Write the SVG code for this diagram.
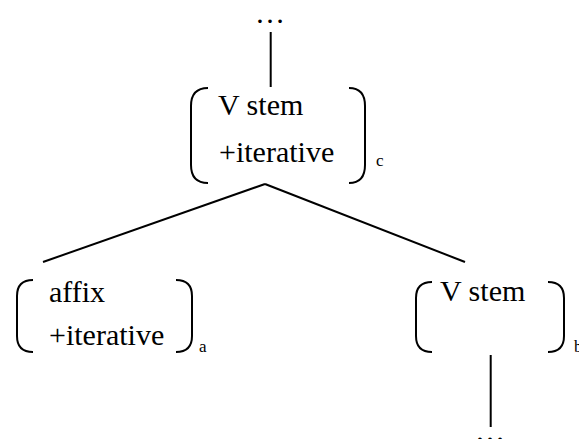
<svg xmlns="http://www.w3.org/2000/svg" width="579" height="439" viewBox="0 0 579 439" font-family="'Liberation Serif', serif">
<style>
.t{font-family:'Liberation Serif',serif;font-size:30px;fill:#000}
.s{font-family:'Liberation Serif',serif;font-size:17px;fill:#000}
.br{fill:none;stroke:#000;stroke-width:2}
.ln{stroke:#000;stroke-width:2;fill:none}
</style>
<rect width="579" height="439" fill="#fff"/>
<g id="connectors">
<line class="ln" x1="270.7" y1="32" x2="270.7" y2="87"/>
<line class="ln" x1="265" y1="184" x2="43" y2="262"/>
<line class="ln" x1="265" y1="184" x2="465" y2="262"/>
<line class="ln" x1="490.7" y1="355" x2="490.7" y2="427"/>
</g>
<g id="top-ellipsis"><text class="t" x="270" y="23" text-anchor="middle">…</text></g>
<g id="node-c">
<path class="br" d="M208,88 Q191,88 191,106 V165 Q191,183 208,183"/>
<path class="br" d="M349,88 Q365,88 365,106 V165 Q365,183 349,183"/>
<text class="t" x="218" y="115">V stem</text>
<text class="t" x="219" y="162">+iterative</text>
<text class="s" x="376" y="166">c</text>
</g>
<g id="node-a">
<path class="br" d="M33,280 Q17,280 17,296 V336 Q17,352 33,352"/>
<path class="br" d="M176,280 Q192,280 192,296 V336 Q192,352 176,352"/>
<text class="t" x="49" y="302">affix</text>
<text class="t" x="49" y="345">+iterative</text>
<text class="s" x="199" y="352">a</text>
</g>
<g id="node-b">
<path class="br" d="M432,282 Q416,282 416,298 V336 Q416,352 432,352"/>
<path class="br" d="M548,282 Q564,282 564,298 V336 Q564,352 548,352"/>
<text class="t" x="440" y="301">V stem</text>
<text class="s" x="574" y="352">b</text>
</g>
<g id="bottom-ellipsis"><text class="t" x="490" y="441" text-anchor="middle">…</text></g>
</svg>
